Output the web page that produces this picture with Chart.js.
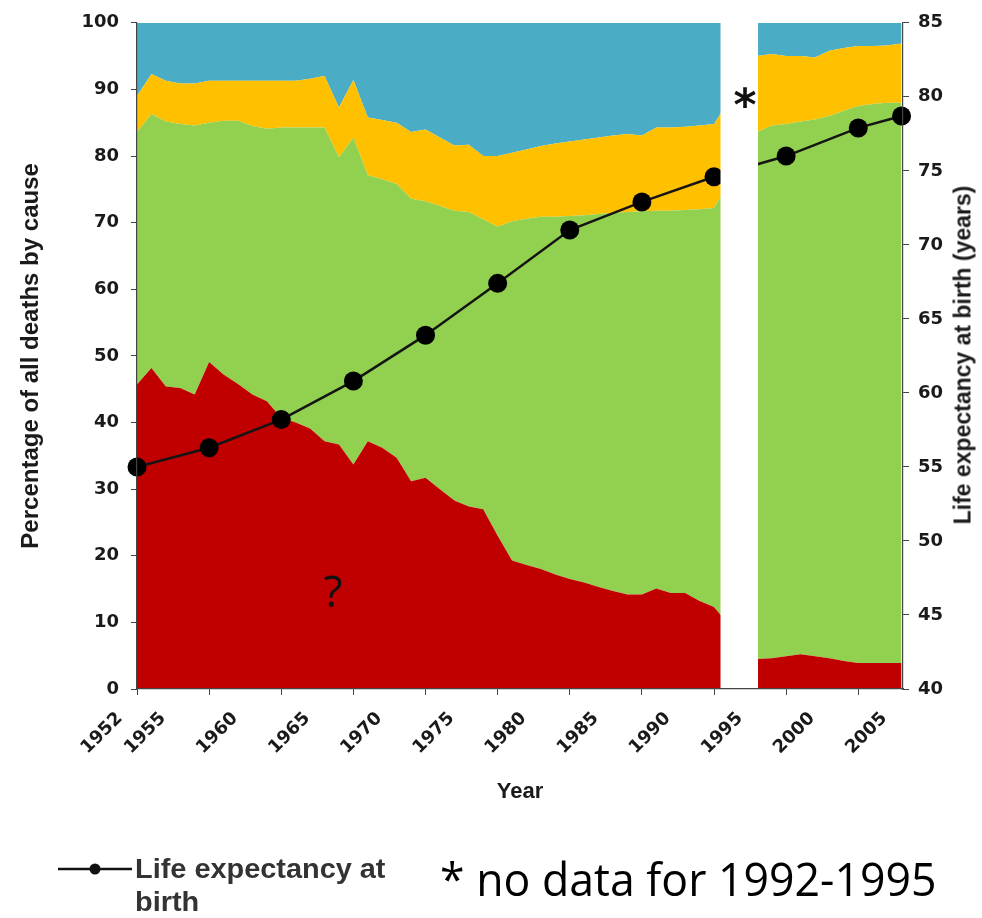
<!DOCTYPE html>
<html>
<head>
<meta charset="utf-8">
<script src="https://cdn.jsdelivr.net/npm/chart.js@4.4.1/dist/chart.umd.min.js"></script>
<style>
html,body{margin:0;padding:0;background:#fff;}
#wrap{position:relative;width:982px;height:918px;overflow:hidden;}
#c{position:absolute;left:0;top:0;}
.ov{position:absolute;white-space:nowrap;color:#1a1a1a;}
#rtitle{left:963px;top:355px;transform:translate(-50%,-50%) rotate(-90deg);font:bold 23px "Liberation Sans",Arial,sans-serif;}
#star{left:725px;width:40px;text-align:center;top:83px;font:bold 44px/44px "DejaVu Sans",sans-serif;color:#111;}
#qmark{left:313px;width:40px;text-align:center;top:568px;font:44px/44px "Open Sans",sans-serif;color:#111;}
#legline{left:58px;top:861px;}
#legtext{left:135px;top:853px;font:bold 27px/33px "Liberation Sans",Arial,sans-serif;color:#333;transform-origin:left top;transform:scaleX(1.07);}
#note{left:440px;top:855px;font:46px/46px "Open Sans",sans-serif;color:#000;transform-origin:left center;transform:scaleX(0.97);}
</style>
</head>
<body>
<div id="wrap">
  <canvas id="c" width="982" height="918"></canvas>
  <div class="ov" id="rtitle">Life expectancy at birth (years)</div>
  <div class="ov" id="star">*</div>
  <div class="ov" id="qmark">?</div>
  <svg class="ov" id="legline" width="76" height="16" viewBox="0 0 76 16"><line x1="0" y1="8" x2="74" y2="8" stroke="#111" stroke-width="2.5"/><circle cx="37" cy="8" r="5.5" fill="#111"/></svg>
  <div class="ov" id="legtext">Life expectancy at<br>birth</div>
  <div class="ov" id="note">* no data for 1992-1995</div>
</div>
<script>
// ---- data ----
const years = [1955,1956,1957,1958,1959,1960,1961,1962,1963,1964,1965,1966,1967,1968,1969,1970,
  1971,1972,1973,1974,1975,1976,1977,1978,1979,1980,1981,1982,1983,1984,1985,1986,1987,1988,1989,1990,
  1991,1992,1993,1994,1995,1998,1999,2000,2001,2002,2003,2004,2005,2006,2007,2008];

// percentage of all deaths, by cause group (bottom to top of stack)
const redShare = [45.7,48.2,45.4,45.2,44.2,49.1,47.2,45.8,44.2,43.2,40.7,40.0,39.1,37.2,36.7,33.7,
  37.2,36.2,34.7,31.2,31.7,30.0,28.3,27.4,27.0,23.0,19.3,18.6,18.0,17.2,16.5,16.0,15.3,14.7,14.2,14.2,
  15.1,14.4,14.4,13.2,12.3,4.5,4.6,4.9,5.2,4.9,4.6,4.2,3.9,3.9,3.9,3.9];
const greenShare = [37.9,38.1,39.8,39.6,40.4,35.9,38.1,39.5,40.3,40.9,43.6,44.3,45.2,47.1,43.1,49.1,
  39.9,40.3,41.1,42.4,41.5,42.5,43.5,44.2,43.5,46.4,50.9,52.0,52.9,53.7,54.5,55.1,56.0,56.8,57.4,57.5,
  56.7,57.4,57.5,58.8,59.9,79.1,80.0,79.9,80.0,80.6,81.4,82.6,83.6,83.9,84.1,84.1];
const yellowShare = [5.4,6.0,6.1,6.1,6.3,6.3,6.0,6.0,6.8,7.2,7.0,7.0,7.3,7.7,7.5,8.6,
  8.7,8.9,9.2,10.0,10.8,10.3,9.8,10.1,9.5,10.6,10.3,10.4,10.6,11.0,11.2,11.4,11.5,11.6,11.7,11.4,
  12.5,12.5,12.5,12.6,12.6,11.4,10.7,10.2,9.8,9.3,9.8,9.4,9.0,8.7,8.6,8.9];
const blueShare = [11.0,7.7,8.7,9.1,9.1,8.7,8.7,8.7,8.7,8.7,8.7,8.7,8.4,8.0,12.7,8.6,
  14.2,14.6,15.0,16.4,16.0,17.2,18.4,18.3,20.0,20.0,19.5,19.0,18.5,18.1,17.8,17.5,17.2,16.9,16.7,16.9,
  15.7,15.7,15.6,15.4,15.2,5.0,4.7,5.0,5.0,5.2,4.2,3.8,3.5,3.5,3.4,3.1];

// life expectancy at birth (years)
const lifeYears = [1955,1960,1965,1970,1975,1980,1985,1990,1995,2000,2005,2008];
const lifeExp   = [55.0,56.3,58.2,60.8,63.9,67.4,71.0,72.9,74.6,76.0,77.9,78.7];

// axis tick labels
const xTickYears = [1952,1955,1960,1965,1970,1975,1980,1985,1990,1995,2000,2005];

// period without data (white band)
const gapFrom = 1995.45, gapTo = 1998.05;

// ---- chart ----
const tickFont = {family:'"DejaVu Sans", sans-serif', size:18, weight:'bold'};
const axisColor = '#444';
const xy = arr => years.map((yr,i)=>({x:yr, y:arr[i]}));

const gapPlugin = {
  id:'gapBand',
  afterDatasetsDraw(chart){
    const {ctx, chartArea, scales} = chart;
    const x0 = scales.x.getPixelForValue(gapFrom);
    const x1 = scales.x.getPixelForValue(gapTo);
    ctx.save();
    ctx.fillStyle = '#ffffff';
    ctx.fillRect(x0, chartArea.top - 2, x1 - x0, chartArea.bottom - chartArea.top + 2);
    ctx.restore();
  }
};

const areaDs = (label, arr, color, fill) => ({
  label, data: xy(arr), backgroundColor: color, borderColor: color, borderWidth: 0,
  pointRadius: 0, fill, tension: 0, yAxisID: 'y', order: 2
});

new Chart(document.getElementById('c'), {
  type: 'line',
  data: {
    datasets: [
      areaDs('Red group', redShare, '#C00000', 'origin'),
      areaDs('Green group', greenShare, '#92D050', '-1'),
      areaDs('Yellow group', yellowShare, '#FFC000', '-1'),
      areaDs('Blue group', blueShare, '#4BACC6', '-1'),
      {
        label: 'Life expectancy at birth',
        data: lifeYears.map((yr,i)=>({x:yr, y:lifeExp[i]})),
        yAxisID: 'y2', borderColor: '#151515', backgroundColor: '#000',
        borderWidth: 2.5, pointRadius: 9.5, pointBackgroundColor: '#000', pointBorderWidth: 0,
        fill: false, tension: 0, clip: false, order: 0
      }
    ]
  },
  options: {
    responsive: false, animation: false, devicePixelRatio: 1,
    layout: {padding: {left: 0, right: 0, top: 20, bottom: 104}},
    plugins: {legend: {display: false}, tooltip: {enabled: false}},
    scales: {
      x: {
        type: 'linear', min: 1955, max: 2008.1,
        afterBuildTicks: s => { s.ticks = xTickYears.map(v => ({value: v})); },
        afterFit: s => { s.height = 125; },
        grid: {drawOnChartArea: false, tickLength: 6, color: axisColor, z: 1,
               tickColor: c => (c.tick && c.tick.value < 1955) ? 'rgba(0,0,0,0)' : axisColor},
        border: {color: axisColor, width: 1.2, z: 1},
        ticks: {autoSkip: false, minRotation: 45, maxRotation: 45, labelOffset: 26, padding: 13,
                font: tickFont, color: '#1a1a1a', callback: v => String(v)},
        title: {display: true, text: 'Year', color: '#1a1a1a',
                font: {family:'"Liberation Sans", Arial, sans-serif', size: 22, weight: 'bold'},
                padding: {top: 0, bottom: 9}}
      },
      y: {
        position: 'left', stacked: true, min: 0, max: 100,
        afterFit: s => { s.width = 137; },
        grid: {drawOnChartArea: false, tickLength: 6, color: axisColor, z: 1},
        border: {color: axisColor, width: 1.2, z: 1},
        ticks: {stepSize: 10, padding: 12, font: tickFont, color: '#1a1a1a'},
        title: {display: true, text: 'Percentage of all deaths by cause', color: '#1a1a1a',
                font: {family:'"Liberation Sans", Arial, sans-serif', size: 24, weight: 'bold'},
                padding: {top: 17, bottom: 0}}
      },
      y2: {
        position: 'right', min: 40, max: 85,
        afterFit: s => { s.width = 79; },
        grid: {drawOnChartArea: false, tickLength: 6, color: axisColor, z: 1},
        border: {color: axisColor, width: 1.2, z: 1},
        ticks: {stepSize: 5, padding: 9, font: tickFont, color: '#1a1a1a'}
      }
    }
  },
  plugins: [gapPlugin]
});
</script>
</body>
</html>
